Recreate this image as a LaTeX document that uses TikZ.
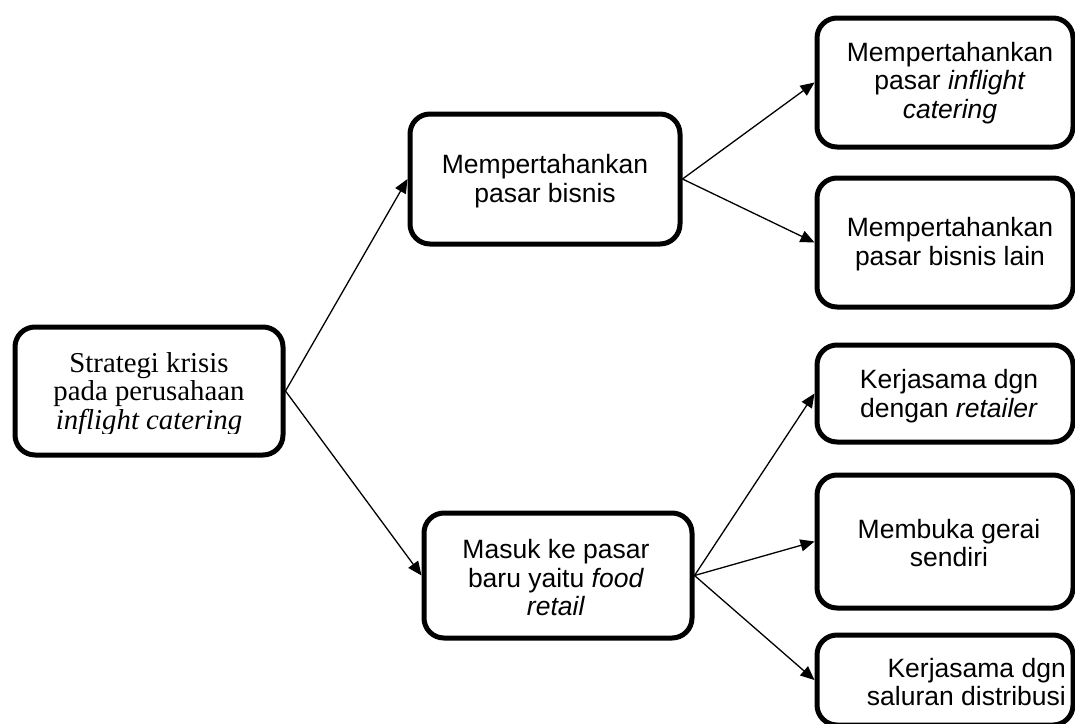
\documentclass[tikz,border=0pt]{standalone}
\usepackage{fontspec}
\setmainfont{Liberation Sans}
\newfontfamily\cambriaish{Liberation Serif}
\usetikzlibrary{arrows.meta}
\begin{document}
\begin{tikzpicture}[x=1pt,y=-1pt,
  box/.style={draw=black, line width=5pt, rounded corners=20pt, fill=white, inner sep=0pt},
  txt/.style={align=center, font=\fontsize{26.5}{28.5}\selectfont, inner sep=0pt},
  serif/.style={align=center, font=\cambriaish\fontsize{28.8}{28.5}\selectfont, inner sep=0pt},
  arr/.style={line width=1.3pt, -{Triangle[length=14pt,width=12pt]}}]
\useasboundingbox (0,0) rectangle (1075,723);
\fill[white] (0,0) rectangle (1075,723);
\clip (0,0) rectangle (1075,723);

% boxes
\node[box, minimum width=268pt, minimum height=128pt] (L) at (149,391) {};
\node[box, minimum width=270pt, minimum height=130pt] (M1) at (545,179) {};
\node[box, minimum width=268pt, minimum height=125pt] (M2) at (558,575.5) {};
\node[box, minimum width=256pt, minimum height=129pt] (R1) at (945,82.5) {};
\node[box, minimum width=256pt, minimum height=129pt] (R2) at (945,242.5) {};
\node[box, minimum width=256pt, minimum height=97pt] (R3) at (945,393.5) {};
\node[box, minimum width=256pt, minimum height=133pt] (R4) at (945,541.5) {};
\node[box, minimum width=256pt, minimum height=90pt] (R5) at (945,680) {};

% texts
\begin{scope}
\clip (15,330) rectangle (283,433);
\node[serif] (Lt) at (149,394) {Strategi krisis\\pada perusahaan\\\textit{inflight catering}};
\end{scope}
\node[txt] (M1t) at (545,181) {Mempertahankan\\pasar bisnis};
\node[txt] (M2t) at (556,578) {Masuk ke pasar\\baru yaitu \textit{food}\\\textit{retail}};
\node[txt] (R1t) at (950,83) {Mempertahankan\\pasar \textit{inflight}\\\textit{catering}};
\node[txt] (R2t) at (950,244) {Mempertahankan\\pasar bisnis lain};
\node[txt] (R3t) at (949,396) {Kerjasama dgn\\dengan \textit{retailer}};
\node[txt] (R4t) at (949,543) {Membuka gerai\\sendiri};
\node[txt, align=right, anchor=east] (R5t) at (1066,682) {Kerjasama dgn\hspace{5pt}\\saluran distribusi};

% connectors
\draw[arr] (L.east) -- (M1.west);
\draw[arr] (L.east) -- (M2.west);
\draw[arr] (M1.east) -- (R1.west);
\draw[arr] (M1.east) -- (R2.west);
\draw[arr] (M2.east) -- (R3.west);
\draw[arr] (M2.east) -- (R4.west);
\draw[arr] (M2.east) -- (R5.west);
\end{tikzpicture}
\end{document}
